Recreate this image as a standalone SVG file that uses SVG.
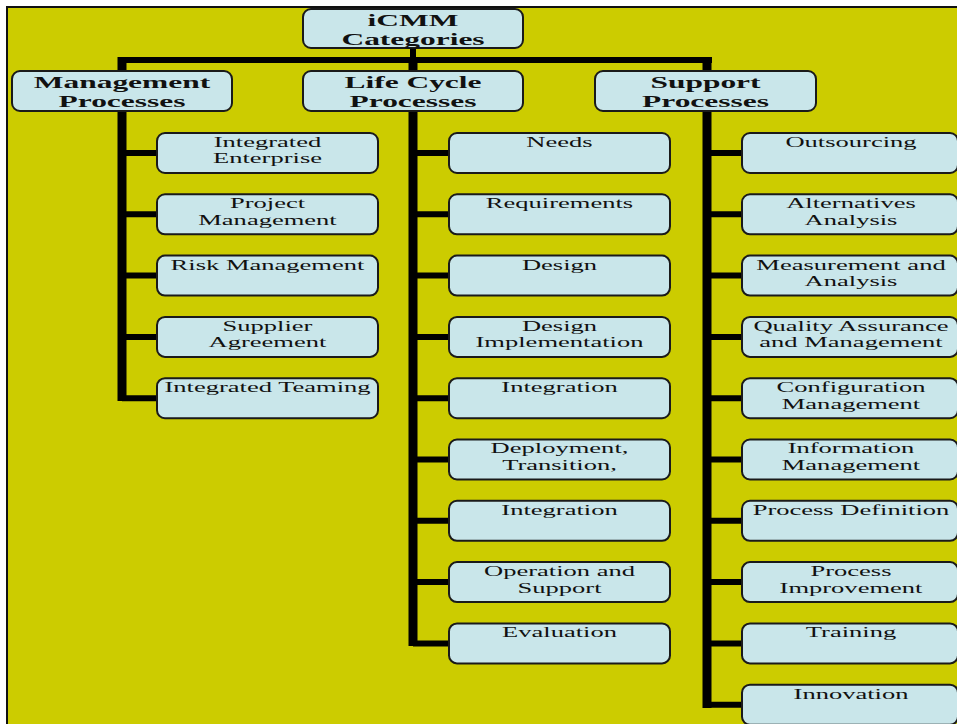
<svg xmlns="http://www.w3.org/2000/svg" width="957" height="724" viewBox="0 0 957 724">
<style>
.bg{fill:#CCCC00;stroke:#111;stroke-width:2}
.box{fill:#C9E6EA;stroke:#1a1a1a;stroke-width:2}
.h{font-family:"Liberation Serif","Times New Roman",serif;font-size:17px;font-weight:bold;fill:#111;text-anchor:middle}
.c{font-family:"Liberation Serif","Times New Roman",serif;font-size:14.5px;fill:#111;text-anchor:middle}
.trunk{stroke:#000;stroke-width:9;fill:none}
.br{stroke:#000;stroke-width:6;fill:none}
</style>
<rect x="0" y="0" width="957" height="724" fill="#fff"/>
<rect class="bg" x="7" y="7" width="965" height="730"/>
<g id="connectors">
  <line class="br" x1="413" y1="48" x2="413" y2="60"/>
  <line class="br" x1="118" y1="60" x2="712" y2="60"/>
  <line class="trunk" x1="122" y1="57" x2="122" y2="71"/>
  <line class="trunk" x1="413" y1="57" x2="413" y2="71"/>
  <line class="trunk" x1="707" y1="57" x2="707" y2="71"/>
  <line class="trunk" x1="122" y1="111" x2="122" y2="401"/>
  <line class="trunk" x1="413" y1="111" x2="413" y2="646"/>
  <line class="trunk" x1="707" y1="111" x2="707" y2="708"/>
  <g class="br">
    <line x1="122" y1="153" x2="157" y2="153"/><line x1="122" y1="214.3" x2="157" y2="214.3"/><line x1="122" y1="275.6" x2="157" y2="275.6"/><line x1="122" y1="336.9" x2="157" y2="336.9"/><line x1="122" y1="398.2" x2="157" y2="398.2"/>
    <line x1="413" y1="153" x2="449" y2="153"/><line x1="413" y1="214.3" x2="449" y2="214.3"/><line x1="413" y1="275.6" x2="449" y2="275.6"/><line x1="413" y1="336.9" x2="449" y2="336.9"/><line x1="413" y1="398.2" x2="449" y2="398.2"/><line x1="413" y1="459.5" x2="449" y2="459.5"/><line x1="413" y1="520.8" x2="449" y2="520.8"/><line x1="413" y1="582.1" x2="449" y2="582.1"/><line x1="413" y1="643.4" x2="449" y2="643.4"/>
    <line x1="707" y1="153" x2="742" y2="153"/><line x1="707" y1="214.3" x2="742" y2="214.3"/><line x1="707" y1="275.6" x2="742" y2="275.6"/><line x1="707" y1="336.9" x2="742" y2="336.9"/><line x1="707" y1="398.2" x2="742" y2="398.2"/><line x1="707" y1="459.5" x2="742" y2="459.5"/><line x1="707" y1="520.8" x2="742" y2="520.8"/><line x1="707" y1="582.1" x2="742" y2="582.1"/><line x1="707" y1="643.4" x2="742" y2="643.4"/><line x1="707" y1="704.7" x2="742" y2="704.7"/>
  </g>
</g>
<g id="n-icmm"><rect class="box" x="303" y="9" width="220" height="39" rx="8"/><text class="h" transform="translate(413 9) scale(1.85 1)"><tspan x="0" y="17">iCMM</tspan><tspan x="0" y="36">Categories</tspan></text></g>
<g id="n-mgmt"><rect class="box" x="12" y="71" width="220" height="40" rx="8"/><text class="h" transform="translate(122 71) scale(1.85 1)"><tspan x="0" y="17">Management</tspan><tspan x="0" y="36">Processes</tspan></text></g>
<g id="n-life"><rect class="box" x="303" y="71" width="220" height="40" rx="8"/><text class="h" transform="translate(413 71) scale(1.85 1)"><tspan x="0" y="17">Life Cycle</tspan><tspan x="0" y="36">Processes</tspan></text></g>
<g id="n-supp"><rect class="box" x="595" y="71" width="221" height="40" rx="8"/><text class="h" transform="translate(705.5 71) scale(1.85 1)"><tspan x="0" y="17">Support</tspan><tspan x="0" y="36">Processes</tspan></text></g>

<g id="m1"><rect class="box" x="157" y="133" width="221" height="40" rx="8"/><text class="c" transform="translate(267.5 133) scale(1.83 1)"><tspan x="0" y="14">Integrated</tspan><tspan x="0" y="30.5">Enterprise</tspan></text></g>
<g id="m2"><rect class="box" x="157" y="194.3" width="221" height="40" rx="8"/><text class="c" transform="translate(267.5 194.3) scale(1.83 1)"><tspan x="0" y="14">Project</tspan><tspan x="0" y="30.5">Management</tspan></text></g>
<g id="m3"><rect class="box" x="157" y="255.6" width="221" height="40" rx="8"/><text class="c" transform="translate(267.5 255.6) scale(1.83 1)"><tspan x="0" y="14">Risk Management</tspan></text></g>
<g id="m4"><rect class="box" x="157" y="316.9" width="221" height="40" rx="8"/><text class="c" transform="translate(267.5 316.9) scale(1.83 1)"><tspan x="0" y="14">Supplier</tspan><tspan x="0" y="30.5">Agreement</tspan></text></g>
<g id="m5"><rect class="box" x="157" y="378.2" width="221" height="40" rx="8"/><text class="c" transform="translate(267.5 378.2) scale(1.83 1)"><tspan x="0" y="14">Integrated Teaming</tspan></text></g>

<g id="l1"><rect class="box" x="449" y="133" width="221" height="40" rx="8"/><text class="c" transform="translate(559.5 133) scale(1.83 1)"><tspan x="0" y="14">Needs</tspan></text></g>
<g id="l2"><rect class="box" x="449" y="194.3" width="221" height="40" rx="8"/><text class="c" transform="translate(559.5 194.3) scale(1.83 1)"><tspan x="0" y="14">Requirements</tspan></text></g>
<g id="l3"><rect class="box" x="449" y="255.6" width="221" height="40" rx="8"/><text class="c" transform="translate(559.5 255.6) scale(1.83 1)"><tspan x="0" y="14">Design</tspan></text></g>
<g id="l4"><rect class="box" x="449" y="316.9" width="221" height="40" rx="8"/><text class="c" transform="translate(559.5 316.9) scale(1.83 1)"><tspan x="0" y="14">Design</tspan><tspan x="0" y="30.5">Implementation</tspan></text></g>
<g id="l5"><rect class="box" x="449" y="378.2" width="221" height="40" rx="8"/><text class="c" transform="translate(559.5 378.2) scale(1.83 1)"><tspan x="0" y="14">Integration</tspan></text></g>
<g id="l6"><rect class="box" x="449" y="439.5" width="221" height="40" rx="8"/><text class="c" transform="translate(559.5 439.5) scale(1.83 1)"><tspan x="0" y="14">Deployment,</tspan><tspan x="0" y="30.5">Transition,</tspan></text></g>
<g id="l7"><rect class="box" x="449" y="500.8" width="221" height="40" rx="8"/><text class="c" transform="translate(559.5 500.8) scale(1.83 1)"><tspan x="0" y="14">Integration</tspan></text></g>
<g id="l8"><rect class="box" x="449" y="562.1" width="221" height="40" rx="8"/><text class="c" transform="translate(559.5 562.1) scale(1.83 1)"><tspan x="0" y="14">Operation and</tspan><tspan x="0" y="30.5">Support</tspan></text></g>
<g id="l9"><rect class="box" x="449" y="623.4" width="221" height="40" rx="8"/><text class="c" transform="translate(559.5 623.4) scale(1.83 1)"><tspan x="0" y="14">Evaluation</tspan></text></g>

<g id="s1"><rect class="box" x="742" y="133" width="216" height="40" rx="8"/><text class="c" transform="translate(851 133) scale(1.83 1)"><tspan x="0" y="14">Outsourcing</tspan></text></g>
<g id="s2"><rect class="box" x="742" y="194.3" width="216" height="40" rx="8"/><text class="c" transform="translate(851 194.3) scale(1.83 1)"><tspan x="0" y="14">Alternatives</tspan><tspan x="0" y="30.5">Analysis</tspan></text></g>
<g id="s3"><rect class="box" x="742" y="255.6" width="216" height="40" rx="8"/><text class="c" transform="translate(851 255.6) scale(1.83 1)"><tspan x="0" y="14">Measurement and</tspan><tspan x="0" y="30.5">Analysis</tspan></text></g>
<g id="s4"><rect class="box" x="742" y="316.9" width="216" height="40" rx="8"/><text class="c" transform="translate(851 316.9) scale(1.83 1)"><tspan x="0" y="14">Quality Assurance</tspan><tspan x="0" y="30.5">and Management</tspan></text></g>
<g id="s5"><rect class="box" x="742" y="378.2" width="216" height="40" rx="8"/><text class="c" transform="translate(851 378.2) scale(1.83 1)"><tspan x="0" y="14">Configuration</tspan><tspan x="0" y="30.5">Management</tspan></text></g>
<g id="s6"><rect class="box" x="742" y="439.5" width="216" height="40" rx="8"/><text class="c" transform="translate(851 439.5) scale(1.83 1)"><tspan x="0" y="14">Information</tspan><tspan x="0" y="30.5">Management</tspan></text></g>
<g id="s7"><rect class="box" x="742" y="500.8" width="216" height="40" rx="8"/><text class="c" transform="translate(851 500.8) scale(1.83 1)"><tspan x="0" y="14">Process Definition</tspan></text></g>
<g id="s8"><rect class="box" x="742" y="562.1" width="216" height="40" rx="8"/><text class="c" transform="translate(851 562.1) scale(1.83 1)"><tspan x="0" y="14">Process</tspan><tspan x="0" y="30.5">Improvement</tspan></text></g>
<g id="s9"><rect class="box" x="742" y="623.4" width="216" height="40" rx="8"/><text class="c" transform="translate(851 623.4) scale(1.83 1)"><tspan x="0" y="14">Training</tspan></text></g>
<g id="s10"><rect class="box" x="742" y="684.7" width="216" height="40" rx="8"/><text class="c" transform="translate(851 684.7) scale(1.83 1)"><tspan x="0" y="14">Innovation</tspan></text></g>
</svg>
